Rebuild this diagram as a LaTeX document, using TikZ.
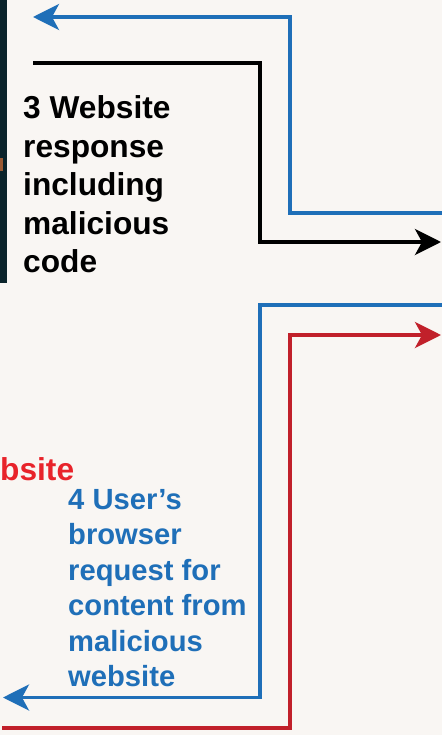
\documentclass[tikz,border=0pt]{standalone}
\usepackage{fontspec}
\setmainfont{Liberation Sans}
\usetikzlibrary{arrows.meta}
\definecolor{paper}{HTML}{F9F6F3}
\definecolor{flowblue}{HTML}{1F6FB8}
\definecolor{flowred}{HTML}{C1202A}
\definecolor{labelred}{HTML}{E8232A}
\definecolor{panel}{HTML}{0B242B}
\definecolor{panelmark}{HTML}{9A5A34}
\tikzset{
  flow/.style={line width=3.6bp, line join=miter,
    -{Stealth[length=26bp, width=26bp, inset=7bp]}},
  bigtext/.style={font=\bfseries\fontsize{31.8}{38.6}\selectfont, align=left,
    anchor=north west, inner sep=0pt},
  smalltext/.style={font=\bfseries\fontsize{29.3}{35.6}\selectfont, align=left,
    anchor=north west, inner sep=0pt},
}
\begin{document}
\begin{tikzpicture}[x=1bp,y=-1bp]
\fill[paper] (0,0) rectangle (442,735);
\useasboundingbox (0,0) rectangle (442,735);

% dark side panel at the top left
\fill[panel] (0,0) rectangle (7,283);
\fill[panelmark] (0,158) rectangle (2.5,171);

% end points of the message paths
\coordinate (b1s) at (442,213);
\coordinate (b1e) at (33,17);
\coordinate (k1s) at (33,63);
\coordinate (k1e) at (441,242);
\coordinate (b2s) at (442,305);
\coordinate (b2e) at (3,697.5);
\coordinate (r1s) at (2,728);
\coordinate (r1e) at (441,335);

% blue: request out to the website
\draw[flow, flowblue] (b1s) -| (290,17) -- (b1e);
% black: website response
\draw[flow, black] (k1s) -| (260,242) -- (k1e);
% blue: browser request to malicious site
\draw[flow, flowblue] (b2s) -| (260,697.5) -- (b2e);
% red: malicious content
\draw[flow, flowred] (r1s) -| (290,335) -- (r1e);

% labels
\node[bigtext, text=black] (resp) at (23,95.5)
  {3 Website\\response\\including\\malicious\\code};
\node[bigtext, text=labelred] (red) at (0,457.5) {bsite};
\node[smalltext, text=flowblue] (req) at (68,489)
  {4 User’s\\browser\\request for\\content from\\malicious\\website};
\end{tikzpicture}
\end{document}
